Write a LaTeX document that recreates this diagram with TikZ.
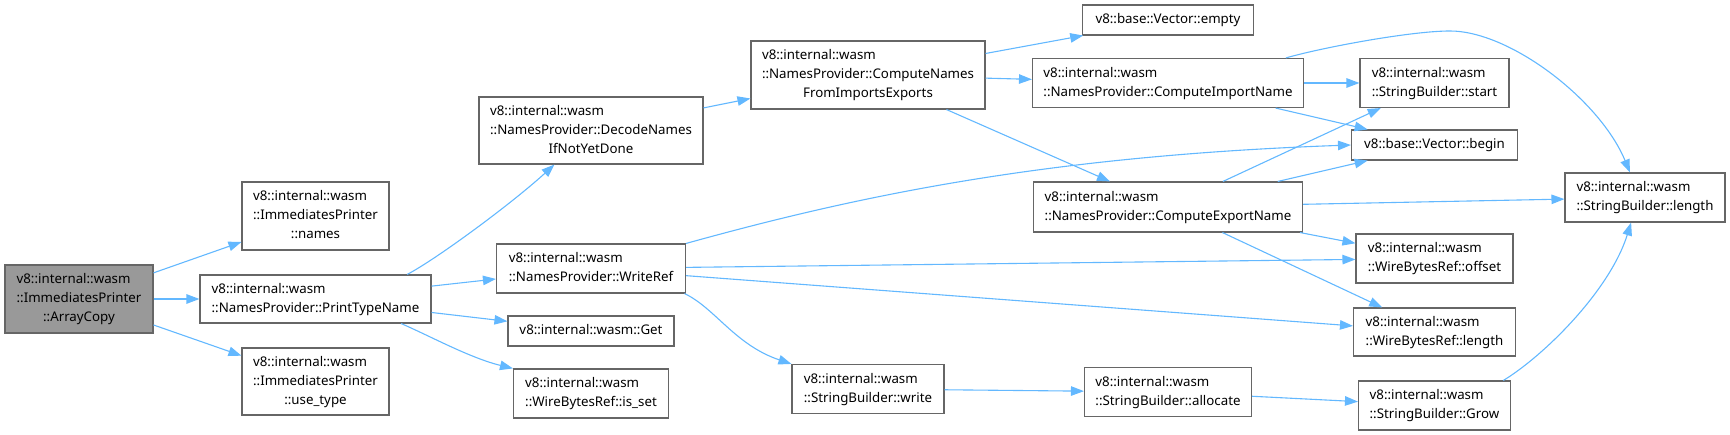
\documentclass[tikz,border=0pt]{standalone}
\usepackage{fontspec}
\setmainfont{Noto Sans}
\usetikzlibrary{arrows.meta}
\definecolor{edgecol}{HTML}{63B8FF}
\definecolor{bordercol}{HTML}{666666}
\definecolor{rootfill}{HTML}{999999}
\newcommand\tthree[3]{\begin{tabular}{@{}l@{}}#1\\#2\\\multicolumn{1}{@{}c@{}}{#3}\end{tabular}}
\newcommand\ttwo[2]{\begin{tabular}{@{}l@{}}#1\\\multicolumn{1}{@{}c@{}}{#2}\end{tabular}}
\newcommand\tone[1]{\begin{tabular}{@{}c@{}}#1\end{tabular}}
\begin{document}
\begin{tikzpicture}[x=1pt,y=-1pt,
  fbox/.style={draw=bordercol, fill=white, line width=1.1pt, inner sep=0pt,
    font=\fontsize{13.3}{19}\selectfont},
  rootbox/.style={fbox, fill=rootfill},
  edge/.style={draw=edgecol, line width=1.1pt, -{Triangle[length=13pt,width=9.5pt]}, fill=none}]
\useasboundingbox (0,0) rectangle (1730,435);

\node[rootbox, minimum width=148pt, minimum height=68pt] (ac) at (79,299) {\tthree{v8::internal::wasm}{::ImmediatesPrinter}{::ArrayCopy}};
\node[fbox, minimum width=147pt, minimum height=68pt] (names) at (315.5,216) {\tthree{v8::internal::wasm}{::ImmediatesPrinter}{::names}};
\node[fbox, minimum width=231pt, minimum height=48pt] (ptn) at (315.5,299) {\ttwo{v8::internal::wasm}{::NamesProvider::PrintTypeName}};
\node[fbox, minimum width=147pt, minimum height=67pt] (use) at (315.5,381.5) {\tthree{v8::internal::wasm}{::ImmediatesPrinter}{::use\_type}};
\node[fbox, minimum width=224pt, minimum height=67pt] (dec) at (591,130.5) {\tthree{v8::internal::wasm}{::NamesProvider::DecodeNames}{IfNotYetDone}};
\node[fbox, minimum width=234pt, minimum height=68pt] (cnfie) at (868,75) {\tthree{v8::internal::wasm}{::NamesProvider::ComputeNames}{FromImportsExports}};
\node[fbox, minimum width=189pt, minimum height=49pt] (wr) at (591,268.5) {\ttwo{v8::internal::wasm}{::NamesProvider::WriteRef}};
\node[fbox, minimum width=166pt, minimum height=30pt] (get) at (591,331) {\tone{v8::internal::wasm::Get}};
\node[fbox, minimum width=155pt, minimum height=49pt] (isset) at (591,393.5) {\ttwo{v8::internal::wasm}{::WireBytesRef::is\_set}};
\node[fbox, minimum width=152pt, minimum height=49pt] (write) at (868,389) {\ttwo{v8::internal::wasm}{::StringBuilder::write}};
\node[fbox, minimum width=171pt, minimum height=30pt] (empty) at (1168,20) {\tone{v8::base::Vector::empty}};
\node[fbox, minimum width=271pt, minimum height=49pt] (cin) at (1168,83) {\ttwo{v8::internal::wasm}{::NamesProvider::ComputeImportName}};
\node[fbox, minimum width=149pt, minimum height=49pt] (start) at (1434.5,83) {\ttwo{v8::internal::wasm}{::StringBuilder::start}};
\node[fbox, minimum width=166pt, minimum height=30pt] (begin) at (1434.5,145) {\tone{v8::base::Vector::begin}};
\node[fbox, minimum width=160pt, minimum height=49pt] (sbl) at (1645,197.5) {\ttwo{v8::internal::wasm}{::StringBuilder::length}};
\node[fbox, minimum width=269pt, minimum height=50pt] (cen) at (1168,207) {\ttwo{v8::internal::wasm}{::NamesProvider::ComputeExportName}};
\node[fbox, minimum width=157pt, minimum height=49pt] (offset) at (1434.5,258.5) {\ttwo{v8::internal::wasm}{::WireBytesRef::offset}};
\node[fbox, minimum width=162pt, minimum height=48pt] (wbrl) at (1434.5,332) {\ttwo{v8::internal::wasm}{::WireBytesRef::length}};
\node[fbox, minimum width=167pt, minimum height=49pt] (alloc) at (1168,392) {\ttwo{v8::internal::wasm}{::StringBuilder::allocate}};
\node[fbox, minimum width=152pt, minimum height=49pt] (grow) at (1434.5,405.5) {\ttwo{v8::internal::wasm}{::StringBuilder::Grow}};

\draw[edge] (ac) -- (names);
\draw[edge] (ac) -- (ptn);
\draw[edge] (ac) -- (use);
\draw[edge] (ptn.15.3) .. controls (435,260) and (510,205) .. (dec.-137.1);
\draw[edge] (ptn) -- (wr);
\draw[edge] (ptn) -- (get);
\draw[edge] (ptn.-16.4) .. controls (430,336) and (470,358) .. (isset.north west);
\draw[edge] (dec) -- (cnfie);
\draw[edge] (cnfie) -- (empty);
\draw[edge] (cnfie) -- (cin);
\draw[edge] (cnfie) -- (cen);
\draw[edge] (cin) -- (start);
\draw[edge] (cin) -- (begin);
\draw[edge] (cin.12.7) .. controls (1320,48) and (1410,31) .. (1450,31) .. controls (1510,31) and (1600,100) .. (sbl.121.5);
\draw[edge] (cen) -- (start);
\draw[edge] (cen) -- (begin);
\draw[edge] (cen) -- (sbl);
\draw[edge] (cen) -- (offset);
\draw[edge] (cen) -- (wbrl);
\draw[edge] (wr.north east) .. controls (850,198) and (1040,156) .. (begin.west);
\draw[edge] (wr) -- (offset);
\draw[edge] (wr) -- (wbrl);
\draw[edge] (wr.-15.4) .. controls (715,308) and (735,345) .. (write.north west);
\draw[edge] (write) -- (alloc);
\draw[edge] (alloc) -- (grow);
\draw[edge] (grow.20.8) .. controls (1545,355) and (1610,290) .. (sbl.-119.7);
\end{tikzpicture}
\end{document}
